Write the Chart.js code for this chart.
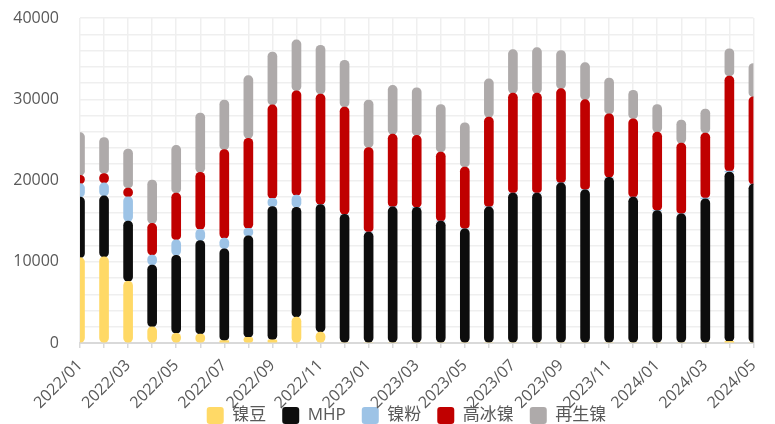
<!DOCTYPE html>
<html>
<head>
<meta charset="utf-8">
<script src="https://cdn.jsdelivr.net/npm/chart.js@4"></script>
<style>
  html, body { margin: 0; padding: 0; background: #fff; }
  #wrap { width: 775px; height: 424px; }
</style>
</head>
<body>
<div id="wrap"><canvas id="grafico" width="775" height="424"></canvas></div>
<script>
// meses 2022/01 - 2024/05
const meses = [
  "2022/01","2022/02","2022/03","2022/04","2022/05","2022/06","2022/07","2022/08","2022/09","2022/10","2022/11","2022/12",
  "2023/01","2023/02","2023/03","2023/04","2023/05","2023/06","2023/07","2023/08","2023/09","2023/10","2023/11","2023/12",
  "2024/01","2024/02","2024/03","2024/04","2024/05"
];

const nieDou   = [10500,10600,7600,2000,1200,1100,300,700,400,3200,1350,0, 0,0,0,0,0,0,0,0,0,0,0,0, 0,0,0,200,0];
const mhp      = [7470,7500,7400,7600,9600,11500,11300,12500,16400,13500,15700,15850, 13650,16750,16700,15000,14050,16750,18450,18450,19700,18850,20400,17950, 16300,15900,17750,20850,19550];
const nieFen   = [1640,1600,3000,1230,1900,1400,1300,900,1000,1500,0,0, 0,0,0,0,0,0,0,0,0,0,0,0, 0,0,100,100,0];
const gaoBing  = [1030,1150,1070,3890,5750,7000,10900,11100,11500,12850,13600,13200, 10400,8950,8850,8500,7600,11050,12300,12300,11600,11100,7800,9650, 9650,8700,8000,11700,10750];
const zaiSheng = [5250,4430,4800,5340,5870,7300,6100,7700,6500,6250,6000,5750, 5850,6000,5850,5850,5450,4700,5350,5600,4700,4550,4400,3500, 3400,2850,2950,3350,4100];

const yTicks = [0, 10000, 20000, 30000, 40000];

const gris = "#595959";
const fuente = "'Open Sans', 'Noto Sans CJK SC', sans-serif";

function serie(label, data, color) {
  return {
    label: label,
    data: data,
    backgroundColor: color,
    borderWidth: 0,
    // objeto => redondea tambien los tramos intermedios del apilado
    borderRadius: { topLeft: 5, topRight: 5, bottomLeft: 5, bottomRight: 5 },
    borderSkipped: false,
    barThickness: 9
  };
}

// la leyenda del original va algo a la derecha y monta sobre las etiquetas del eje
const moverLeyenda = {
  id: "moverLeyenda",
  afterLayout(chart) {
    chart.legend.left += 20;
    chart.legend.right += 20;
    chart.legend.top -= 24;
    chart.legend.bottom -= 24;
  }
};

const ctx = document.getElementById('grafico').getContext('2d');

new Chart(ctx, {
  type: 'bar',
  data: {
    labels: meses,
    datasets: [
      serie("镍豆", nieDou, "#FFD966"),
      serie("MHP", mhp, "#0D0D0D"),
      serie("镍粉", nieFen, "#9DC3E6"),
      serie("高冰镍", gaoBing, "#C00000"),
      serie("再生镍", zaiSheng, "#AEAAAA")
    ]
  },
  options: {
    responsive: false,
    animation: false,
    layout: { padding: { top: 18, right: 2, left: 0, bottom: -34 } },
    plugins: {
      tooltip: { enabled: false },
      legend: {
        position: 'bottom',
        labels: {
          color: gris,
          font: { family: fuente, size: 17 },
          boxWidth: 17,
          boxHeight: 17,
          useBorderRadius: true,
          borderRadius: 3,
          padding: 16
        }
      }
    },
    scales: {
      x: {
        stacked: true,
        offset: false,
        grid: {
          offset: false,
          color: "#EFEFEF",
          lineWidth: 1.5,
          tickColor: "#D9D9D9",
          tickLength: 5
        },
        border: { color: "#D9D9D9", width: 2 },
        ticks: {
          color: gris,
          font: { family: fuente, size: 16 },
          autoSkip: false,
          maxRotation: 45,
          minRotation: 45,
          padding: 8,
          callback: function (v, i) { return i % 2 === 0 ? meses[i] : ""; }
        },
        afterFit: function (scale) { scale.height = 72; }
      },
      y: {
        stacked: true,
        min: 0,
        max: 40000,
        grid: {
          color: "#EFEFEF",
          lineWidth: 1.5,
          drawTicks: true,
          tickLength: 18,
          tickColor: "rgba(0,0,0,0)"
        },
        border: { display: false },
        ticks: {
          stepSize: 2000,
          autoSkip: false,
          color: gris,
          font: { family: fuente, size: 16 },
          padding: 3,
          callback: function (v) { return yTicks.includes(v) ? v : ""; }
        },
        afterFit: function (scale) { scale.width = 80; }
      }
    }
  },
  plugins: [moverLeyenda]
});
</script>
</body>
</html>
